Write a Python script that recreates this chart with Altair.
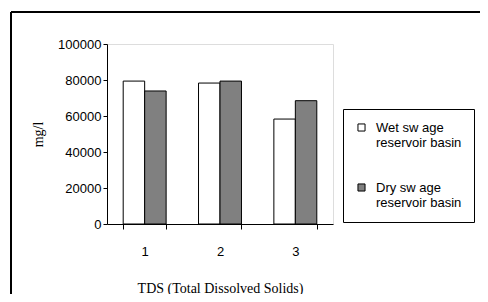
import altair as alt
import pandas as pd

categories = ["1", "2", "3"]
series = ["Wet sw age\nreservoir basin", "Dry sw age\nreservoir basin"]
wet = [79400, 78300, 58300]
dry = [73900, 79400, 68500]
y_ticks = [0, 20000, 40000, 60000, 80000, 100000]
colors = ["#ffffff", "#808080"]

rows = []
for i, c in enumerate(categories):
    rows.append({"cat": c, "series": series[0], "value": wet[i]})
    rows.append({"cat": c, "series": series[1], "value": dry[i]})
df = pd.DataFrame(rows)

W, H = 226, 180

bars = alt.Chart(df).mark_bar(stroke="black", strokeWidth=1).encode(
    x=alt.X("cat:N", sort=categories,
            scale=alt.Scale(paddingInner=0.43, paddingOuter=0.215),
            axis=alt.Axis(title="TDS (Total Dissolved Solids)", labelAngle=0,
                          tickBand="extent", tickSize=5, labelPadding=16,
                          labelFont="Liberation Sans", labelFontSize=13,
                          titleFont="Liberation Serif", titleFontSize=14,
                          titleFontWeight="normal", titlePadding=23,
                          domainColor="black", tickColor="black",
                          labelColor="black", titleColor="black")),
    xOffset=alt.XOffset("series:N", sort=series),
    y=alt.Y("value:Q", scale=alt.Scale(domain=[0, 100000]),
            axis=alt.Axis(title="mg/l", values=y_ticks, grid=False, tickSize=4,
                          format="d",
                          labelPadding=2, labelFont="Liberation Sans",
                          labelFontSize=13, titleFont="Liberation Serif",
                          titleFontSize=14, titleFontWeight="normal",
                          titlePadding=12, domainColor="black",
                          tickColor="black", labelColor="black",
                          titleColor="black")),
    fill=alt.Fill("series:N", sort=series,
                  scale=alt.Scale(domain=series, range=colors),
                  legend=alt.Legend(title=None, orient="none", legendX=236,
                                    legendY=65, symbolType="square",
                                    symbolSize=50, symbolStrokeColor="black",
                                    symbolStrokeWidth=1, labelFont="Liberation Sans",
                                    labelFontSize=13, labelColor="black",
                                    labelExpr="split(datum.label, '\\n')",
                                    labelBaseline="middle",
                                    strokeColor="black", padding=12,
                                    rowPadding=31, labelOffset=8)),
)

frame_top = alt.Chart(df).mark_rule(color="black", strokeWidth=2).encode(
    x=alt.value(-96), x2=alt.value(400), y=alt.value(-32))
frame_left = alt.Chart(df).mark_rule(color="black", strokeWidth=2).encode(
    x=alt.value(-96), y=alt.value(-32), y2=alt.value(300))

chart = alt.layer(frame_top, frame_left, bars).properties(
    width=W, height=H,
    autosize=alt.AutoSizeParams(type="none"),
    padding={"left": 99, "top": 36, "right": 147, "bottom": 70},
).configure_view(strokeWidth=0).configure(background="white")

chart.save("out.html", embed_options={"renderer": "svg", "actions": False})
